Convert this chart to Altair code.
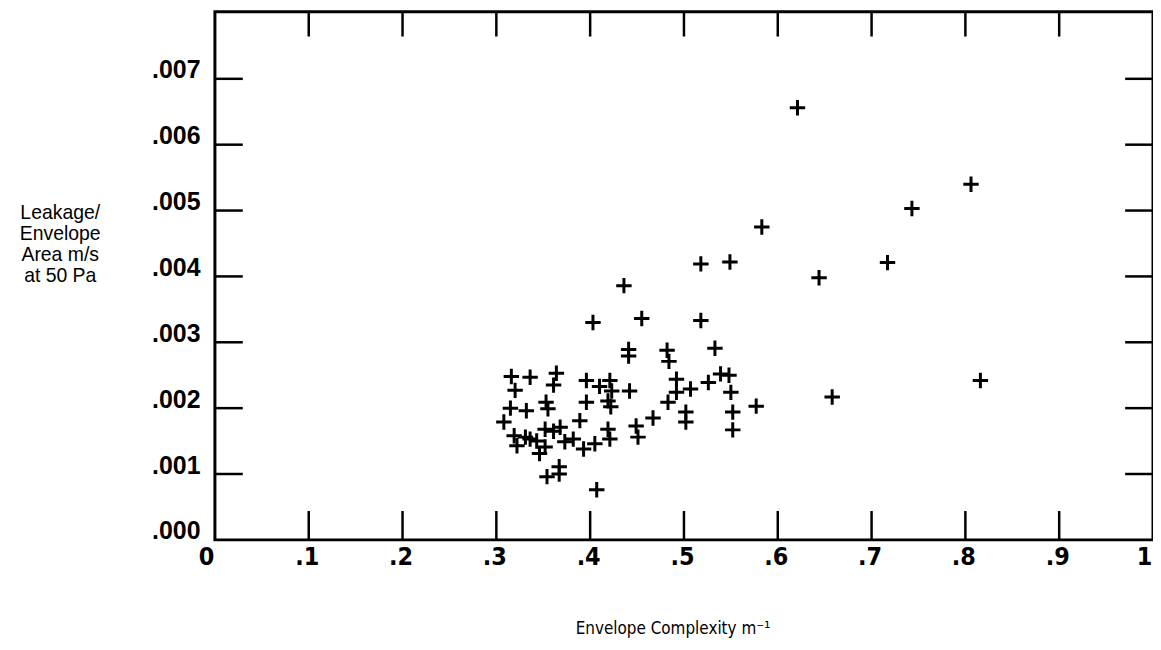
import altair as alt
import pandas as pd

# Envelope complexity (1/m) and leakage per envelope area (m/s at 50 Pa)
complexity = [
    0.621, 0.583, 0.518, 0.549, 0.644, 0.436, 0.455, 0.518, 0.403,
    0.806, 0.743, 0.717, 0.816, 0.658,
    0.441, 0.441, 0.482, 0.484, 0.533,
    0.316, 0.320, 0.336, 0.364, 0.361, 0.396, 0.410, 0.421, 0.423, 0.419,
    0.422, 0.442, 0.492, 0.492, 0.507, 0.526, 0.539, 0.548, 0.550, 0.577,
    0.315, 0.332, 0.353, 0.355, 0.396, 0.483, 0.502, 0.502, 0.552, 0.552,
    0.308, 0.389, 0.467, 0.449, 0.451, 0.419, 0.421, 0.352, 0.361, 0.368,
    0.319, 0.331, 0.322, 0.336, 0.343, 0.352, 0.346, 0.373, 0.382, 0.393,
    0.405, 0.367, 0.367, 0.354, 0.407,
]
leakage = [
    0.00656, 0.00475, 0.00419, 0.00422, 0.00398, 0.00386, 0.00336, 0.00333, 0.00330,
    0.00540, 0.00503, 0.00421, 0.00242, 0.00217,
    0.00289, 0.00279, 0.00288, 0.00271, 0.00291,
    0.00248, 0.00227, 0.00247, 0.00253, 0.00235, 0.00242, 0.00233, 0.00242, 0.00226, 0.00211,
    0.00202, 0.00226, 0.00244, 0.00224, 0.00229, 0.00239, 0.00252, 0.00250, 0.00224, 0.00203,
    0.00200, 0.00196, 0.00209, 0.00199, 0.00209, 0.00209, 0.00194, 0.00179, 0.00194, 0.00167,
    0.00179, 0.00181, 0.00185, 0.00173, 0.00156, 0.00168, 0.00153, 0.00168, 0.00165, 0.00171,
    0.00158, 0.00156, 0.00143, 0.00153, 0.00150, 0.00141, 0.00131, 0.00149, 0.00153, 0.00138,
    0.00146, 0.00111, 0.00100, 0.00096, 0.00076,
]
x_ticks = [0.0, 0.1, 0.2, 0.3, 0.4, 0.5, 0.6, 0.7, 0.8, 0.9, 1.0]
y_ticks = [0.0, 0.001, 0.002, 0.003, 0.004, 0.005, 0.006, 0.007]
x_inner_ticks = [0.1, 0.2, 0.3, 0.4, 0.5, 0.6, 0.7, 0.8, 0.9]
y_inner_ticks = [0.001, 0.002, 0.003, 0.004, 0.005, 0.006, 0.007]

W, H = 943, 531

df = pd.DataFrame({"x": complexity, "y": leakage})
xt = pd.DataFrame({"x": x_inner_ticks})
yt = pd.DataFrame({"y": y_inner_ticks})

xscale = alt.Scale(domain=[0, 1], nice=False, zero=False)
yscale = alt.Scale(domain=[0, 0.00802], nice=False, zero=False)

narrow_font = "DejaVu Sans Condensed, Liberation Sans Narrow, Arial Narrow, sans-serif"

xaxis = alt.Axis(
    values=x_ticks,
    labelExpr="datum.value == 0 ? '0' : (datum.value == 1 ? '1' : replace(format(datum.value, '.1f'), '0.', '.'))",
    domain=False, ticks=False, tickSize=0, grid=False,
    labelFont=narrow_font, labelFontSize=25, labelFontWeight="bold", labelColor="black",
    labelPadding=5, labelFlush=False,
    labelOffset={"condition": {"test": "datum.value == 0 || datum.value == 1", "value": -9},
                 "value": -2},
    title="Envelope Complexity m\u207b\u00b9",
    titleFont=narrow_font, titleFontSize=17, titleFontWeight="normal", titleColor="black",
    titleX=460, titleY=89, titleBaseline="middle", titleAlign="center", titleAnchor="start",
)
yaxis = alt.Axis(
    values=y_ticks,
    labelExpr="replace(format(datum.value, '.3f'), '0.', '.')",
    domain=False, ticks=False, tickSize=0, grid=False,
    labelFont="Liberation Sans, Arial, sans-serif", labelFontSize=25, labelFontWeight="bold",
    labelColor="black", labelPadding=15, labelBaseline="alphabetic", labelOffset=-1,
    labelFlush=False,
    title=["Leakage/", "Envelope", "Area m/s", "at 50 Pa"],
    titleFont="Liberation Sans, Arial, sans-serif", titleFontSize=19.5, titleFontWeight="normal",
    titleColor="black", titleAngle=0, titleAlign="center", titleBaseline="top",
    titleX=-156, titleY=193, titleLineHeight=21, titleAnchor="start",
)

points = alt.Chart(df).mark_point(
    shape="M-1,0L1,0M0,-1L0,1", filled=False, color="black",
    strokeWidth=3, size=240, opacity=1,
).encode(
    x=alt.X("x:Q", scale=xscale, axis=xaxis),
    y=alt.Y("y:Q", scale=yscale, axis=yaxis),
)

rule_style = dict(color="black", strokeWidth=2.5)

bottom_ticks = alt.Chart(xt).mark_rule(**rule_style).encode(
    x=alt.X("x:Q", scale=xscale, axis=xaxis),
    y=alt.value(H), y2=alt.value(H - 29),
)
top_ticks = alt.Chart(xt).mark_rule(**rule_style).encode(
    x=alt.X("x:Q", scale=xscale, axis=xaxis),
    y=alt.value(0), y2=alt.value(25),
)
left_ticks = alt.Chart(yt).mark_rule(**rule_style).encode(
    y=alt.Y("y:Q", scale=yscale, axis=yaxis),
    x=alt.value(0), x2=alt.value(28),
)
right_ticks = alt.Chart(yt).mark_rule(**rule_style).encode(
    y=alt.Y("y:Q", scale=yscale, axis=yaxis),
    x=alt.value(W), x2=alt.value(W - 28),
)

chart = alt.layer(points, bottom_ticks, top_ticks, left_ticks, right_ticks).properties(
    width=W, height=H,
    autosize=alt.AutoSizeParams(type="none"),
    padding={"left": 208, "top": 2, "right": 0, "bottom": 100},
).configure(background="white").configure_view(stroke="black", strokeWidth=3)

chart.save("out.html", embed_options={"renderer": "svg", "actions": False})
